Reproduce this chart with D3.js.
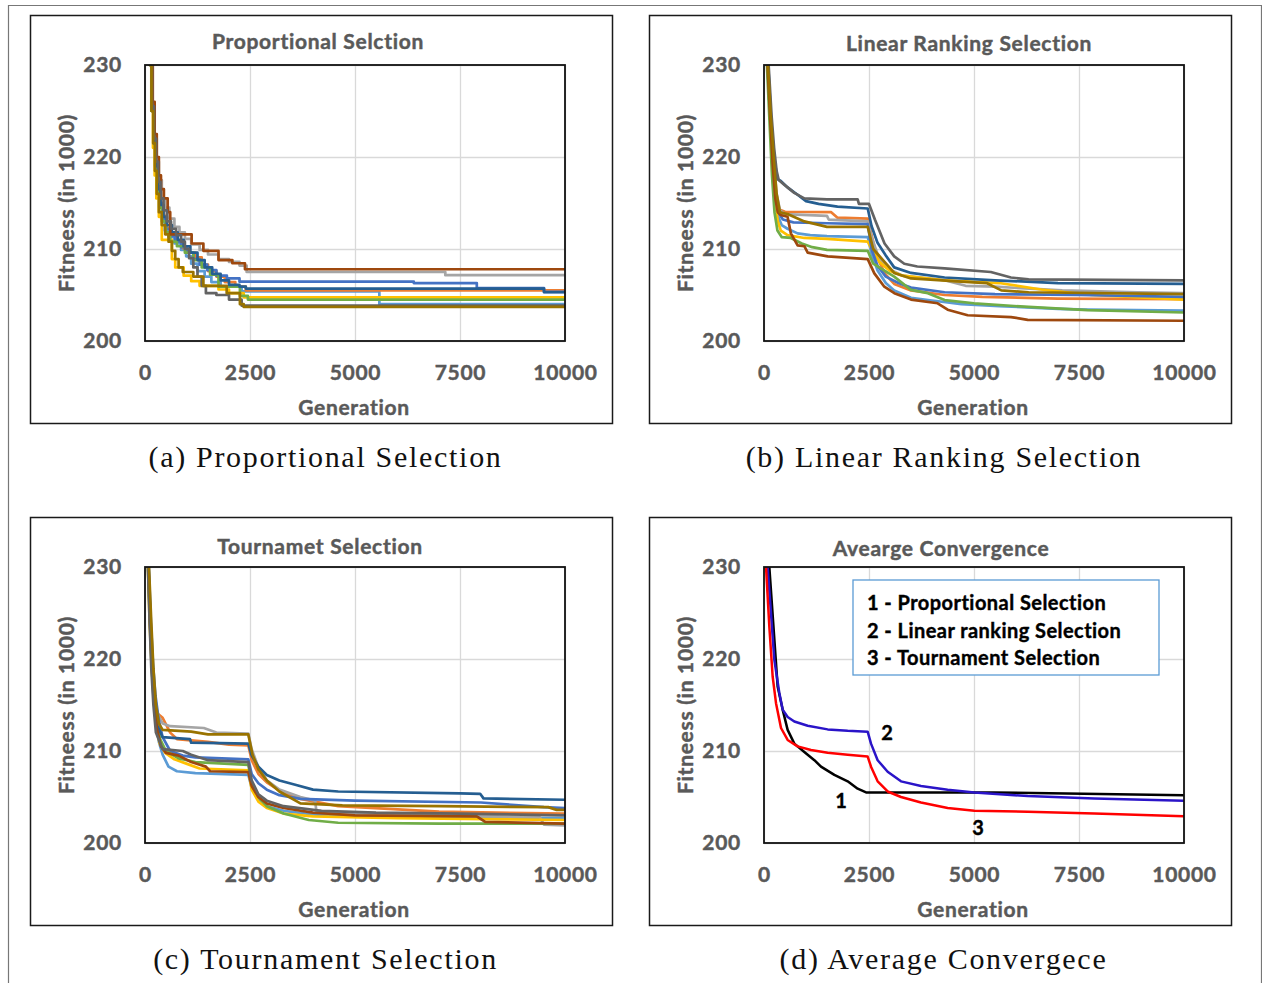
<!DOCTYPE html>
<html>
<head>
<meta charset="utf-8">
<script src="https://cdn.jsdelivr.net/npm/d3@7/dist/d3.min.js"></script>
<style>
  html, body { margin: 0; padding: 0; background: #fff; }
  svg { display: block; }
  .tick-label { font-family: Lato, "Open Sans", sans-serif; font-weight: 700; fill: #595959;
                stroke: #595959; stroke-width: 0.45px; letter-spacing: 0.7px; }
  .caption { font-family: "Liberation Serif", "DejaVu Serif", serif; fill: #111; letter-spacing: 1.7px; }
</style>
</head>
<body>
<svg id="fig" width="1262" height="983"></svg>
<script>
// ---- axis ticks ----
const generationTicks = [0, 2500, 5000, 7500, 10000];
const fitnessTicks = [200, 210, 220, 230];

// ---- series colours (10 runs per selection scheme) ----
const runColors = ["#5B9BD5", "#ED7D31", "#A5A5A5", "#FFC000", "#4472C4",
                   "#70AD47", "#255E91", "#9E480E", "#636363", "#997300"];

// ---- (a) proportional selection: best fitness per run, [generation, fitness/1000] ----
const proportionalRuns = [
  [[0,240],[110,230],[160,225],[200,221.5],[240,219],[290,216.5],[340,214.5],[400,213],[470,212],[560,211.3],[700,210.6],[860,209.9],[980,209.2],[1100,208.4],[1250,207.6],[1420,207.0],[1580,206.4],[1800,205.9],[2300,205.4],[5580,204.0],[10000,204.0]],
  [[0,240],[120,230],[170,225],[210,221.8],[260,219],[310,216.8],[370,215],[440,213.6],[520,212.3],[620,211.6],[760,210.9],[900,210.1],[1050,209.6],[1200,209.1],[1350,208.3],[1500,207.6],[1700,207.0],[1900,206.4],[2150,205.9],[2400,205.5],[10000,205.45]],
  [[0,240],[130,230],[180,225.5],[230,222],[280,219.5],[330,217.5],[400,215.5],[480,214.5],[580,213.3],[700,212.4],[820,211.8],[950,211.1],[1100,210.5],[1300,209.9],[1500,209.4],[1750,208.9],[2000,208.6],[2250,208.2],[2420,207.5],[7150,207.15],[10000,207.15]],
  [[0,240],[110,230],[150,225],[190,221],[230,218],[270,215.5],[330,213.5],[400,211.0],[640,208.9],[720,208.0],[920,207.1],[1100,206.5],[1300,206.0],[1750,205.6],[2000,205.2],[2350,204.75],[10000,204.75]],
  [[0,240],[120,230],[165,225],[210,221.5],[250,219],[300,216.8],[350,215],[420,213.3],[500,212.2],[600,211.4],[720,210.8],[860,210.2],[1000,209.6],[1150,208.9],[1300,208.3],[1480,207.7],[1700,207.1],[1950,206.8],[2250,206.45],[6400,206.3],[7900,205.75],[9500,205.35],[10000,205.35]],
  [[0,240],[115,230],[160,225],[200,221.5],[245,219],[290,216.5],[340,214.5],[410,213],[500,211.8],[600,210.8],[760,210.3],[950,209.6],[1150,208.8],[1350,208.0],[1550,207.2],[1750,205.9],[2260,204.9],[2450,204.5],[10000,204.5]],
  [[0,240],[125,230],[170,225],[215,221.5],[260,219],[310,216.5],[370,214.8],[440,213.5],[520,212.6],[640,211.8],[780,211.0],[920,210.3],[1080,209.6],[1250,208.8],[1420,208.0],[1600,207.3],[1800,206.6],[2000,206.1],[2250,205.9],[2400,205.7],[9500,205.3],[10000,205.3]],
  [[0,240],[135,230],[185,226],[230,222.5],[280,220],[330,218],[380,216.5],[450,215.5],[540,214],[600,211.6],[1110,210.6],[1390,209.8],[1750,208.8],[2080,208.45],[2380,207.8],[10000,207.8]],
  [[0,240],[125,230],[170,225.5],[215,222],[265,219.5],[315,217.3],[370,215.5],[440,214.2],[520,213],[620,212.2],[740,211.5],[860,210.8],[950,210.0],[1050,209.0],[1150,208.0],[1250,207.0],[1350,206.0],[1450,205.2],[1700,205.0],[2000,204.5],[2300,203.85],[10000,203.85]],
  [[0,240],[115,230],[155,225],[195,221.5],[235,218.5],[280,216],[330,214],[400,212.6],[480,211.6],[560,210.8],[640,209.8],[720,208.9],[800,208.0],[900,207.5],[1150,207.0],[1390,206.0],[1945,205.2],[2260,204.0],[2350,203.7],[10000,203.7]]
];

// ---- (b) linear ranking selection ----
const rankingRuns = [
  [[0,236],[80,230],[150,224],[220,219],[280,215],[340,213.5],[420,212.6],[560,212.2],[800,211.7],[1100,211.5],[1500,211.4],[2470,211.3],[2560,209.5],[2700,207.7],[2900,206.3],[3100,205.5],[3500,204.7],[4000,204.4],[4700,204.0],[5600,203.8],[7000,203.5],[7700,203.4],[10000,203.3]],
  [[0,236],[90,230],[160,224],[230,219],[290,216],[360,214.3],[500,214.05],[1600,214.0],[1750,213.4],[2470,213.3],[2560,211.5],[2700,209.0],[2900,207.2],[3100,206.2],[3500,205.5],[4300,205.0],[5200,204.8],[7000,204.6],[10000,204.55]],
  [[0,236],[90,230],[160,224],[230,219.5],[300,216],[380,214.2],[500,213.8],[1500,213.6],[1540,213.2],[2470,213.0],[2560,211.3],[2700,209.5],[2900,208.0],[3300,207.1],[4300,206.6],[4800,206.0],[5500,205.9],[7100,205.5],[8900,205.3],[10000,205.2]],
  [[0,236],[85,230],[150,224],[210,219],[270,215],[330,213],[400,212.0],[560,211.5],[960,211.2],[1500,211.1],[2470,210.8],[2560,210.0],[2750,208.6],[3000,207.6],[3300,207.1],[4300,206.6],[5600,206.3],[6600,205.6],[7800,205.0],[10000,204.5]],
  [[0,236],[85,230],[150,224],[210,219.5],[270,216],[340,214],[450,213.2],[700,212.9],[1500,212.8],[2470,212.7],[2560,210.0],[2700,208.2],[2900,207.0],[3200,206.3],[3500,205.8],[4300,205.3],[5500,205.1],[7500,205.0],[10000,204.8]],
  [[0,236],[70,230],[130,224],[190,218],[250,214],[320,212.0],[420,211.3],[640,211.2],[900,210.6],[1150,210.2],[1500,209.9],[2470,209.8],[2600,208.4],[3100,207.0],[3500,205.55],[3900,205.2],[4300,204.45],[5000,204.1],[6300,203.7],[7700,203.35],[10000,203.1]],
  [[0,236],[100,230],[170,224],[240,220],[320,217.6],[400,217.4],[560,216.7],[800,215.9],[1000,215.2],[1300,214.9],[1750,214.6],[2470,214.4],[2560,212.5],[2700,210.7],[2900,209.3],[3100,208.0],[3500,207.4],[4300,206.9],[5500,206.6],[7000,206.3],[10000,206.2]],
  [[0,236],[85,230],[150,224],[210,219],[270,215.5],[330,214],[400,213.7],[560,213.5],[640,211.7],[800,210.4],[960,210.3],[1040,209.6],[1516,209.2],[2470,208.9],[2627,207.35],[2865,205.9],[3103,205.2],[3500,204.5],[4135,204.1],[4373,203.4],[4849,202.8],[5881,202.6],[6278,202.3],[10000,202.2]],
  [[0,236],[110,230],[180,224.5],[240,221],[300,218.5],[350,217.5],[480,217.0],[720,216.1],[960,215.5],[1500,215.4],[2230,215.4],[2260,214.9],[2500,214.9],[2640,213.2],[2870,210.6],[3100,209.2],[3340,208.4],[3650,208.1],[4300,207.9],[5400,207.5],[5880,206.9],[6300,206.7],[10000,206.6]],
  [[0,236],[95,230],[160,224.5],[230,220],[300,216],[380,214.0],[560,213.8],[960,213.0],[1500,212.4],[2470,212.4],[2600,210.0],[2870,208.6],[3100,207.4],[3500,206.8],[4700,206.45],[5300,206.3],[5650,205.5],[6300,205.3],[10000,205.1]]
];

// ---- (c) tournament selection ----
const tournamentRuns = [
  [[0,236],[70,230],[110,225],[150,220],[200,216],[260,213],[330,211],[420,209.6],[560,208.3],[760,207.8],[1200,207.6],[2460,207.4],[2540,206.0],[2700,204.8],[2900,204.0],[3300,203.5],[4000,203.1],[5000,202.9],[7000,202.8],[10000,202.7]],
  [[0,236],[80,230],[130,224],[180,219],[230,216],[290,214.1],[420,213.6],[600,212.0],[760,211.3],[1500,211.0],[2000,210.7],[2460,210.6],[2540,209.0],[2700,207.5],[2900,206.6],[3200,205.7],[3700,204.8],[4600,204.0],[7000,203.4],[10000,203.2]],
  [[0,236],[80,230],[130,224],[180,219],[240,215.5],[300,214.0],[420,213.0],[600,212.7],[1400,212.5],[1700,212.0],[2460,211.9],[2540,210.2],[2700,208.2],[2900,206.8],[3200,205.8],[3700,205.0],[4050,204.6],[4080,203.5],[5000,203.2],[7000,203.0],[9400,202.8],[9500,202.0],[10000,201.9]],
  [[0,236],[70,230],[110,224],[160,219],[210,215.5],[270,212.5],[350,210.8],[480,209.8],[700,209.1],[1000,208.6],[1300,208.1],[2460,207.9],[2540,205.8],[2700,204.5],[2900,203.8],[3300,203.2],[4000,202.9],[6000,202.7],[10000,202.5]],
  [[0,236],[90,230],[140,224],[190,219.5],[250,216],[330,213.3],[420,211.5],[600,210.0],[900,209.5],[1200,209.3],[2460,209.1],[2540,207.5],[2700,206.5],[2900,205.8],[3200,205.2],[3700,204.8],[5000,204.6],[8000,204.4],[9500,203.9],[10000,203.8]],
  [[0,236],[75,230],[120,224],[170,219],[220,215.5],[280,213],[360,211.3],[500,210.0],[800,209.2],[1200,208.8],[2460,208.5],[2540,206.5],[2700,205.0],[2900,204.0],[3300,203.2],[3900,202.5],[4600,202.2],[7000,202.1],[10000,202.1]],
  [[0,236],[85,230],[130,224],[180,219],[230,215],[290,212.8],[420,211.5],[1070,211.3],[1100,210.9],[2460,210.8],[2540,209.5],[2700,208.3],[2900,207.4],[3200,206.8],[3600,206.3],[4000,205.8],[4600,205.6],[7500,205.4],[7980,205.35],[8060,204.85],[10000,204.7]],
  [[0,236],[80,230],[120,224],[165,219],[215,215.5],[280,212.5],[380,210.5],[500,209.8],[800,209.5],[1100,208.8],[1450,208.3],[1550,207.8],[2460,207.7],[2540,206.2],[2700,205.0],[2900,204.3],[3300,203.8],[4000,203.3],[5000,203.0],[7900,202.9],[8100,202.3],[10000,202.1]],
  [[0,236],[70,230],[110,224],[150,219],[200,215],[260,212.0],[420,210.2],[900,210.0],[1100,209.6],[1500,209.0],[2460,208.8],[2540,206.8],[2700,205.3],[2900,204.6],[3300,204.0],[4200,203.5],[5500,203.3],[7500,203.2],[10000,203.0]],
  [[0,236],[95,230],[150,224],[200,219],[260,215],[330,213.0],[420,212.3],[1100,212.1],[1500,211.8],[2460,211.8],[2560,209.6],[2700,208.0],[2900,206.8],[3200,205.6],[3700,204.3],[4700,204.1],[7000,204.0],[9600,203.9],[9800,203.6],[10000,203.6]]
];

// ---- (d) average convergence of the three schemes ----
const averageProportional = [[0,240],[127,230],[325,217],[444,214.5],[563,212.3],[722,210.8],[960,209.9],[1200,209.0],[1357,208.3],[1675,207.4],[1992,206.7],[2230,205.9],[2430,205.5],[5480,205.5],[10000,205.2]];
const averageRanking = [[0,240],[87,230],[246,219.9],[365,216.3],[444,214.5],[563,213.7],[722,213.2],[1040,212.75],[1516,212.35],[1992,212.2],[2468,212.1],[2548,210.8],[2706,209.0],[2944,207.75],[3262,206.7],[3738,206.2],[4373,205.8],[5008,205.5],[6278,205.1],[7865,204.85],[10000,204.6]];
const averageTournament = [[0,240],[48,230],[127,223.5],[206,218.1],[286,215.2],[405,212.5],[563,211.2],[800,210.5],[1119,210.1],[1516,209.8],[1992,209.6],[2468,209.4],[2548,208.3],[2706,206.7],[2944,205.6],[3262,205.0],[3738,204.4],[4373,203.8],[5008,203.5],[6278,203.4],[7865,203.2],[10000,202.9]];
const averageNames = ["1 - Proportional Selection", "2 - Linear ranking Selection", "3 - Tournament Selection"];
const averageColors = ["#000000", "#2A14C8", "#FF0000"];
const averageMarks = [
  { label: "1", at: [1833, 204.67] },
  { label: "2", at: [2929, 212.07] },
  { label: "3", at: [5095, 201.74] }
];

const panelTitles = ["Proportional Selction", "Linear Ranking Selection", "Tournamet Selection", "Avearge Convergence"];
const panelCaptions = ["(a) Proportional Selection", "(b) Linear Ranking Selection", "(c) Tournament Selection", "(d) Average Convergece"];
const yAxisTitle = "Fitneess (in 1000)";
const xAxisTitle = "Generation";

// ---- layout ----
const svg = d3.select("#fig");

// outer figure frame
svg.append("path")
  .attr("d", "M8.5,983 V5.5 H1261.5 V983")
  .attr("fill", "none").attr("stroke", "#777").attr("stroke-width", 1.2);

const panelOrigins = [[30, 15], [649, 15], [30, 517], [649, 517]];
const boxW = 582, boxH = 408;
const plot = { left: 115, top: 50, width: 420, height: 276 };
const titlePos = [[288, 25], [320, 27], [290, 28], [292, 30]];
const captionX = [295.5, 295, 295.5, 294.5];

const panels = [
  { runs: proportionalRuns, colors: runColors, curve: d3.curveStepAfter, width: 2.7 },
  { runs: rankingRuns, colors: runColors, curve: d3.curveLinear, width: 2.7 },
  { runs: tournamentRuns, colors: runColors, curve: d3.curveLinear, width: 2.7 },
  { runs: [averageProportional, averageRanking, averageTournament], colors: averageColors, curve: d3.curveLinear, width: 2.5 }
];

panels.forEach((p, i) => {
  const [ox, oy] = panelOrigins[i];
  const g = svg.append("g").attr("transform", `translate(${ox},${oy})`);

  // panel box
  g.append("rect").attr("x", 0.5).attr("y", 0.5).attr("width", boxW).attr("height", boxH)
    .attr("fill", "#fff").attr("stroke", "#1a1a1a").attr("stroke-width", 1.5);

  // title
  g.append("text").attr("class", "tick-label")
    .attr("x", titlePos[i][0]).attr("y", titlePos[i][1])
    .attr("text-anchor", "middle").attr("dominant-baseline", "central")
    .style("font-size", "21px").text(panelTitles[i]);

  const x = d3.scaleLinear().domain([0, 10000]).range([0, plot.width]);
  const y = d3.scaleLinear().domain([200, 230]).range([plot.height, 0]);

  const pg = g.append("g").attr("transform", `translate(${plot.left},${plot.top})`);

  // gridlines
  pg.append("g").call(d3.axisBottom(x).tickValues(generationTicks).tickSize(plot.height).tickFormat(""))
    .call(s => s.select(".domain").remove())
    .call(s => s.selectAll("line").attr("stroke", "#d9d9d9").attr("stroke-width", 1.3));
  pg.append("g").call(d3.axisLeft(y).tickValues(fitnessTicks).tickSize(-plot.width).tickFormat(""))
    .call(s => s.select(".domain").remove())
    .call(s => s.selectAll("line").attr("stroke", "#d9d9d9").attr("stroke-width", 1.3));

  // tick labels
  pg.append("g").call(d3.axisLeft(y).tickValues(fitnessTicks).tickSize(0).tickPadding(23).tickFormat(d3.format("d")))
    .call(s => s.select(".domain").remove())
    .call(s => s.selectAll("text").attr("class", "tick-label").style("font-size", "21px").attr("font-family", null));
  pg.append("g").attr("transform", `translate(0,${plot.height})`)
    .call(d3.axisBottom(x).tickValues(generationTicks).tickSize(0).tickPadding(24).tickFormat(d3.format("d")))
    .call(s => s.select(".domain").remove())
    .call(s => s.selectAll("text").attr("class", "tick-label").style("font-size", "21px").attr("font-family", null));

  // axis titles
  g.append("text").attr("class", "tick-label")
    .attr("transform", `translate(${35},${plot.top + plot.height / 2}) rotate(-90)`)
    .attr("text-anchor", "middle").attr("dominant-baseline", "central")
    .style("font-size", "21px").text(yAxisTitle);
  g.append("text").attr("class", "tick-label")
    .attr("x", plot.left + plot.width / 2 - 1).attr("y", 391)
    .attr("text-anchor", "middle").attr("dominant-baseline", "central")
    .style("font-size", "21px").text(xAxisTitle);

  // clipped series
  const clipId = "clip" + i;
  pg.append("clipPath").attr("id", clipId)
    .append("rect").attr("width", plot.width).attr("height", plot.height);

  const line = d3.line().x(d => x(d[0])).y(d => y(d[1])).curve(p.curve);
  pg.append("g").attr("clip-path", `url(#${clipId})`)
    .selectAll("path").data(p.runs).join("path")
    .attr("d", line)
    .attr("fill", "none")
    .attr("stroke", (d, k) => p.colors[k])
    .attr("stroke-width", p.width)
    .attr("stroke-linejoin", "round");

  // plot frame
  pg.append("rect").attr("width", plot.width).attr("height", plot.height)
    .attr("fill", "none").attr("stroke", "#111").attr("stroke-width", 1.8);

  if (i === 3) {
    // curve numbers
    pg.selectAll("text.mark").data(averageMarks).join("text")
      .attr("class", "mark")
      .attr("x", d => x(d.at[0])).attr("y", d => y(d.at[1]))
      .attr("text-anchor", "middle").attr("dominant-baseline", "central")
      .style("font-family", "Lato, sans-serif").style("font-weight", 700)
      .style("font-size", "20px").style("fill", "#000")
      .style("stroke", "#000").style("stroke-width", "0.4px")
      .text(d => d.label);

    // legend box
    const lg = pg.append("g").attr("transform", "translate(89,13)");
    lg.append("rect").attr("width", 306).attr("height", 95)
      .attr("fill", "#fff").attr("stroke", "#5B9BD5").attr("stroke-width", 1.3);
    lg.selectAll("text").data(averageNames).join("text")
      .attr("x", 14).attr("y", (d, k) => 22 + k * 27.5)
      .attr("dominant-baseline", "central")
      .style("font-family", "Lato, sans-serif").style("font-weight", 700)
      .style("font-size", "20px").style("fill", "#000")
      .style("stroke", "#000").style("stroke-width", "0.4px")
      .style("letter-spacing", "0.45px")
      .text(d => d);
  }

  // caption under the panel
  svg.append("text").attr("class", "caption")
    .attr("x", ox + captionX[i]).attr("y", oy + boxH + 33)
    .attr("text-anchor", "middle").attr("dominant-baseline", "central")
    .style("font-size", "30px").text(panelCaptions[i]);
});
</script>
</body>
</html>
